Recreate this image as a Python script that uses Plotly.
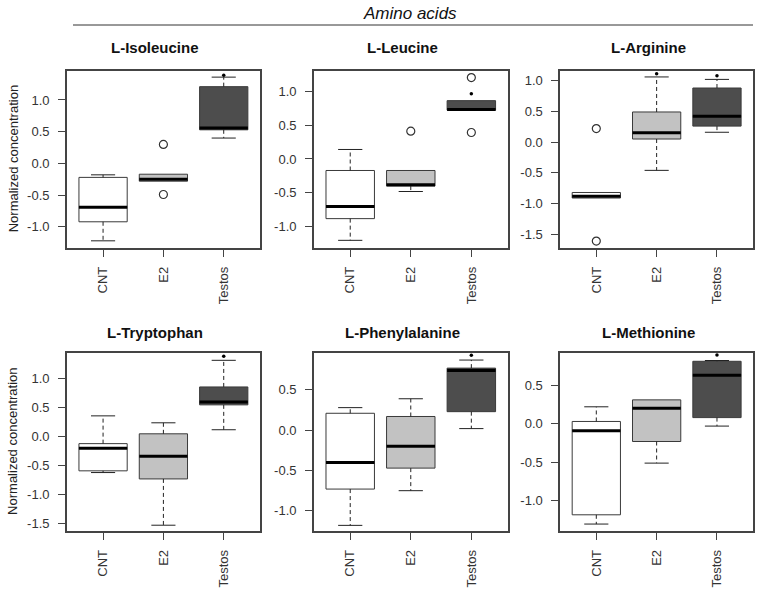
import plotly.graph_objects as go

# panels and groups
panels = ["L-Isoleucine", "L-Leucine", "L-Arginine",
          "L-Tryptophan", "L-Phenylalanine", "L-Methionine"]
groups = ["CNT", "E2", "Testos"]

# box statistics, one row per panel (CNT, E2, Testos)
lower_whisker = [
    [-1.22, -0.28, 0.40],
    [-1.20, -0.48, 0.72],
    [-0.91, -0.46, 0.16],
    [-0.62, -1.53, 0.12],
    [-1.18, -0.75, 0.02],
    [-1.30, -0.51, -0.03],
]
q1 = [
    [-0.92, -0.28, 0.53],
    [-0.88, -0.40, 0.72],
    [-0.91, 0.05, 0.26],
    [-0.59, -0.73, 0.55],
    [-0.73, -0.47, 0.23],
    [-1.18, -0.23, 0.08],
]
median = [
    [-0.69, -0.25, 0.56],
    [-0.70, -0.38, 0.73],
    [-0.88, 0.15, 0.42],
    [-0.20, -0.34, 0.60],
    [-0.40, -0.20, 0.74],
    [-0.09, 0.20, 0.63],
]
q3 = [
    [-0.22, -0.17, 1.21],
    [-0.17, -0.17, 0.86],
    [-0.82, 0.49, 0.88],
    [-0.12, 0.05, 0.86],
    [0.21, 0.17, 0.77],
    [0.03, 0.31, 0.81],
]
upper_whisker = [
    [-0.18, -0.17, 1.36],
    [0.14, -0.17, 0.86],
    [-0.82, 1.06, 1.02],
    [0.36, 0.24, 1.32],
    [0.28, 0.39, 0.87],
    [0.22, 0.31, 0.82],
]

# outliers (open circles)
out_panel = [0, 0, 1, 1, 1, 2, 2]
out_group = [1, 1, 1, 2, 2, 0, 0]
out_value = [0.30, -0.49, 0.41, 1.20, 0.39, 0.22, -1.61]

# small dots above the whiskers
dot_panel = [0, 1, 2, 2, 3, 4, 5]
dot_group = [2, 2, 1, 2, 2, 2, 2]
dot_value = [1.39, 0.96, 1.11, 1.08, 1.39, 0.93, 0.89]

# axis ticks per panel
y_ticks = [
    [-1.0, -0.5, 0.0, 0.5, 1.0],
    [-1.0, -0.5, 0.0, 0.5, 1.0],
    [-1.5, -1.0, -0.5, 0.0, 0.5, 1.0],
    [-1.5, -1.0, -0.5, 0.0, 0.5, 1.0],
    [-1.0, -0.5, 0.0, 0.5],
    [-1.0, -0.5, 0.0, 0.5],
]
y_ranges = [[-1.33, 1.46], [-1.31, 1.30], [-1.72, 1.16],
            [-1.63, 1.45], [-1.25, 0.96], [-1.39, 0.92]]

box_colors = ["white", "#c2c2c2", "#4d4d4d"]
x_domains = [[0.088, 0.342], [0.413, 0.668], [0.737, 0.991]]
y_domains = [[0.587, 0.882], [0.115, 0.412]]

FONT = "Liberation Sans, Arial, sans-serif"
fig = go.Figure()

for p in range(len(panels)):
    n = p + 1
    xa, ya = f"x{n}", f"y{n}"
    wx, wy, mx, my = [], [], [], []
    for g in range(len(groups)):
        xpos = g + 1
        fig.add_trace(go.Box(
            x=[xpos], q1=[q1[p][g]], median=[median[p][g]], q3=[q3[p][g]],
            lowerfence=[q1[p][g]], upperfence=[q3[p][g]],
            orientation="v", width=0.8, whiskerwidth=0,
            fillcolor=box_colors[g], line=dict(color="#3a3a3a", width=1),
            boxpoints=False, hoverinfo="skip", xaxis=xa, yaxis=ya,
        ))
        # thick median
        mx += [xpos - 0.4, xpos + 0.4, None]
        my += [median[p][g], median[p][g], None]
        # dashed whiskers
        if upper_whisker[p][g] > q3[p][g]:
            wx += [xpos, xpos, None]
            wy += [q3[p][g], upper_whisker[p][g], None]
        if lower_whisker[p][g] < q1[p][g]:
            wx += [xpos, xpos, None]
            wy += [q1[p][g], lower_whisker[p][g], None]
    fig.add_trace(go.Scatter(x=wx, y=wy, mode="lines",
                             line=dict(color="#222", width=1, dash="4px,3px"),
                             xaxis=xa, yaxis=ya, hoverinfo="skip"))
    # whisker caps
    cx, cy = [], []
    for g in range(len(groups)):
        xpos = g + 1
        for v, edge in ((upper_whisker[p][g], q3[p][g]), (lower_whisker[p][g], q1[p][g])):
            if v != edge:
                cx += [xpos - 0.2, xpos + 0.2, None]
                cy += [v, v, None]
    fig.add_trace(go.Scatter(x=cx, y=cy, mode="lines",
                             line=dict(color="#222", width=1),
                             xaxis=xa, yaxis=ya, hoverinfo="skip"))
    fig.add_trace(go.Scatter(x=mx, y=my, mode="lines",
                             line=dict(color="black", width=3),
                             xaxis=xa, yaxis=ya, hoverinfo="skip"))
    ox = [out_group[i] + 1 for i in range(len(out_panel)) if out_panel[i] == p]
    oy = [out_value[i] for i in range(len(out_panel)) if out_panel[i] == p]
    if ox:
        fig.add_trace(go.Scatter(x=ox, y=oy, mode="markers",
                                 marker=dict(symbol="circle-open", size=8,
                                             color="#333", line=dict(width=1.2)),
                                 xaxis=xa, yaxis=ya, hoverinfo="skip"))
    dx = [dot_group[i] + 1 for i in range(len(dot_panel)) if dot_panel[i] == p]
    dy = [dot_value[i] for i in range(len(dot_panel)) if dot_panel[i] == p]
    if dx:
        fig.add_trace(go.Scatter(x=dx, y=dy, mode="markers",
                                 marker=dict(size=3.5, color="black"),
                                 xaxis=xa, yaxis=ya, hoverinfo="skip"))

    row, col = p // 3, p % 3
    axis_common = dict(showline=True, mirror=True, linecolor="#444", linewidth=1.5,
                       ticks="outside", ticklen=7, tickcolor="#444",
                       showgrid=False, zeroline=False,
                       tickfont=dict(family=FONT, size=13, color="#333"))
    fig.layout[f"xaxis{n}"] = dict(
        domain=x_domains[col], anchor=ya, range=[0.4, 3.6],
        tickvals=[1, 2, 3], ticktext=groups, tickangle=-90,
        ticklabelstandoff=5, **axis_common)
    fig.layout[f"yaxis{n}"] = dict(
        domain=y_domains[row], anchor=xa, range=y_ranges[p],
        tickvals=y_ticks[p], ticktext=[f"{v:.1f}" for v in y_ticks[p]],
        ticklabelstandoff=6, **axis_common)

    xc = (x_domains[col][0] + x_domains[col][1]) / 2 - 8 / 760
    yt = 1 - 47 / 600 if row == 0 else 1 - 332 / 600
    fig.add_annotation(text=f"<b>{panels[p]}</b>", x=xc, y=yt, xref="paper", yref="paper",
                       xanchor="center", yanchor="middle", showarrow=False,
                       font=dict(family=FONT, size=15, color="#111"))
    if col == 0:
        yc = (y_domains[row][0] + y_domains[row][1]) / 2
        fig.add_annotation(text="Normalized concentration", x=13 / 760, y=yc,
                           xref="paper", yref="paper", textangle=-90, showarrow=False,
                           xanchor="center", yanchor="middle",
                           font=dict(family=FONT, size=13, color="#222"))

fig.add_annotation(text="<i>Amino acids</i>", x=410 / 760, y=1 - 13 / 600,
                   xref="paper", yref="paper", showarrow=False,
                   xanchor="center", yanchor="middle",
                   font=dict(family=FONT, size=17, color="#111"))
fig.add_shape(type="line", xref="paper", yref="paper",
              x0=73 / 760, x1=753 / 760, y0=1 - 25 / 600, y1=1 - 25 / 600,
              line=dict(color="#333", width=1))

fig.update_layout(width=760, height=600, margin=dict(l=0, r=0, t=0, b=0),
                  plot_bgcolor="white", paper_bgcolor="white", showlegend=False,
                  boxmode="overlay")

fig.write_html("out.html", config={"displayModeBar": False},
               post_script="document.body.style.margin='0';")
